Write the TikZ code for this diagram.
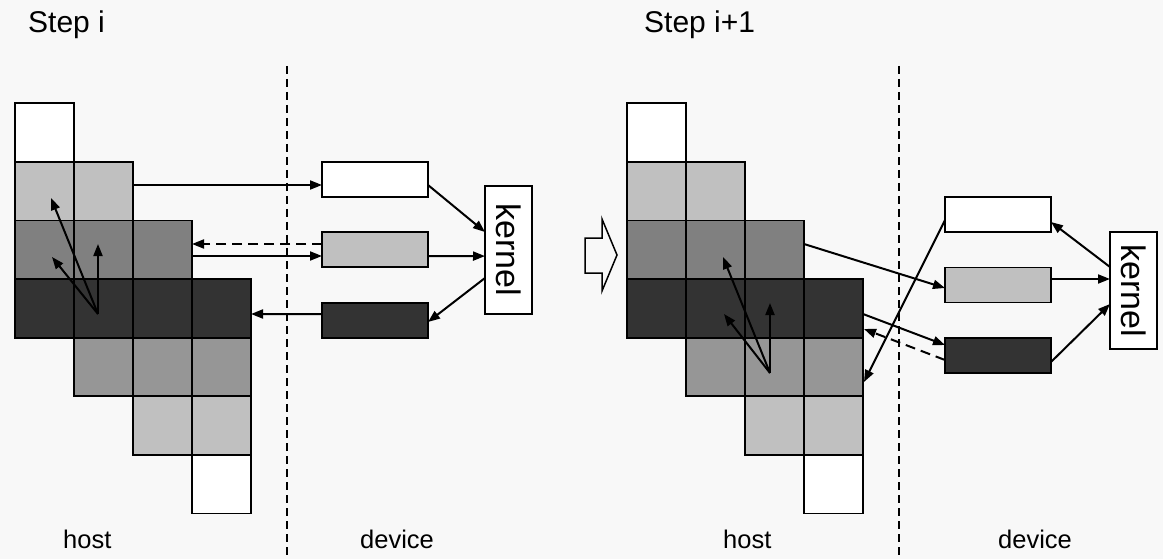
\documentclass[tikz,border=0pt]{standalone}
\usepackage{fontspec}
\setmainfont{Liberation Sans}
\usetikzlibrary{arrows.meta}

\definecolor{bg}{HTML}{F8F8F8}
\definecolor{lg}{HTML}{C0C0C0}
\definecolor{mg}{HTML}{808080}
\definecolor{gg}{HTML}{969696}
\definecolor{dg}{HTML}{333333}

\tikzset{
  cell/.style={draw=black, line width=1.9pt, minimum width=59pt, minimum height=58.6pt,
    inner sep=0pt, outer sep=0pt},
  buf/.style={draw=black, line width=1.9pt, minimum width=106pt, minimum height=35pt,
    inner sep=0pt, outer sep=0pt},
  kern/.style={draw=black, fill=white, line width=1.6pt, minimum width=47pt,
    inner sep=0pt, outer sep=0pt},
  arr/.style={line width=2pt, -{Triangle[length=12pt,width=9pt]}},
  darr/.style={arr, dash pattern=on 10pt off 6pt},
  split/.style={line width=1.4pt, dash pattern=on 8pt off 5pt},
  lbl/.style={anchor=base west, inner sep=0pt, font=\fontsize{25.5}{30}\selectfont},
  ttl/.style={anchor=base west, inner sep=0pt, font=\fontsize{30}{36}\selectfont},
}

% staircase of blocks: #1 = name prefix, #2 = left edge
\newcommand\blockstair[2]{%
  \foreach \r/\c/\col in {0/0/white,1/0/lg,1/1/lg,2/0/mg,2/1/mg,2/2/mg,
      3/0/dg,3/1/dg,3/2/dg,3/3/dg,4/1/gg,4/2/gg,4/3/gg,5/2/lg,5/3/lg,6/3/white}
    \node[cell, fill=\col] (#1\r\c) at ({#2+29.5+59*\c},{132.6+58.6*\r}) {};
}

\begin{document}
\begin{tikzpicture}[x=1pt, y=-1pt]
\path[fill=bg, use as bounding box] (0,0) rectangle (1163,559);

% ---------------- step i ----------------
\node[ttl] (t1) at (28,33) {Step i};
\blockstair{La}{15}

\node[buf, fill=white] (Lb1) at (375,179.5) {};
\node[buf, fill=lg]    (Lb2) at (375,249.8) {};
\node[buf, fill=dg]    (Lb3) at (375,320.2) {};
\node[kern, minimum height=128pt] (Lk) at (508.5,249.9)
  {\rotatebox{-90}{\fontsize{34}{40}\selectfont kernel}};

\coordinate (d1t) at (287,66);
\coordinate (d1b) at (287,559);
\draw[split] (d1t) -- (d1b);

\node[lbl] (h1) at (63,548) {host};
\node[lbl] (v1) at (360,548) {device};

% dependencies inside the block column
\coordinate (Lo)  at (98,314);
\coordinate (Le1) at (51,198);
\coordinate (Le2) at (52,257);
\coordinate (Le3) at (98,244);
\draw[arr] (Lo) -- (Le1);
\draw[arr] (Lo) -- (Le2);
\draw[arr] (Lo) -- (Le3);

% transfers
\draw[arr]  ([yshift=6.2pt]La11.east) -- ([yshift=-5.5pt]Lb1.west);
\draw[darr] ([yshift=5.8pt]Lb2.west) -- ([yshift=5.8pt]La22.east);
\draw[arr]  ([yshift=-6.2pt]La22.east) -- ([yshift=-6.2pt]Lb2.west);
\draw[arr]  ([yshift=6.2pt]Lb3.west) -- ([yshift=-5.6pt]La33.east);

\draw[arr] ([yshift=-5.5pt]Lb1.east) -- ([yshift=17.9pt]Lk.west);
\draw[arr] ([yshift=-6.2pt]Lb2.east) -- ([yshift=-6.2pt]Lk.west);
\draw[arr] ([yshift=-28.1pt]Lk.west) -- ([yshift=-1.8pt]Lb3.east);

% ---------------- transition ----------------
\draw[line width=1.5pt, line join=miter]
  (585,238) -- (602,238) -- (602,219) -- (617,255) -- (602,291)
  -- (602,273) -- (585,273) -- cycle;

% ---------------- step i+1 ----------------
\node[ttl] (t2) at (644,33) {Step i+1};
\blockstair{Ra}{627}

\node[buf, fill=white] (Rb1) at (998,214.5) {};
\node[buf, fill=lg]    (Rb2) at (998,285) {};
\node[buf, fill=dg]    (Rb3) at (998,355.2) {};
\node[kern, minimum height=117pt] (Rk) at (1133.5,290.7)
  {\rotatebox{-90}{\fontsize{34}{40}\selectfont kernel}};

\coordinate (d2t) at (899,66);
\coordinate (d2b) at (899,559);
\draw[split] (d2t) -- (d2b);

\node[lbl] (h2) at (723,548) {host};
\node[lbl] (v2) at (998,548) {device};

\coordinate (Ro)  at (770,373);
\coordinate (Re1) at (723,257);
\coordinate (Re2) at (724,314);
\coordinate (Re3) at (770,303);
\draw[arr] (Ro) -- (Re1);
\draw[arr] (Ro) -- (Re2);
\draw[arr] (Ro) -- (Re3);

\draw[arr]  ([yshift=5.8pt]Ra22.east) -- ([yshift=-3pt]Rb2.west);
\draw[arr]  ([yshift=-5.6pt]Ra33.east) -- ([yshift=10.2pt]Rb3.west);
\draw[darr] ([yshift=-4.8pt]Rb3.west) -- ([xshift=1pt,yshift=-20.6pt]Ra33.east);
\draw[arr]  ([yshift=-5.5pt]Rb1.west) -- ([xshift=1pt,yshift=-15pt]Ra43.east);

\draw[arr] ([yshift=23.7pt]Rk.west) -- ([yshift=-7.5pt]Rb1.east);
\draw[arr] ([yshift=6pt]Rb2.east) -- ([yshift=11.7pt]Rk.west);
\draw[arr] ([yshift=-6.8pt]Rb3.east) -- ([yshift=-13.3pt]Rk.west);
\end{tikzpicture}
\end{document}
